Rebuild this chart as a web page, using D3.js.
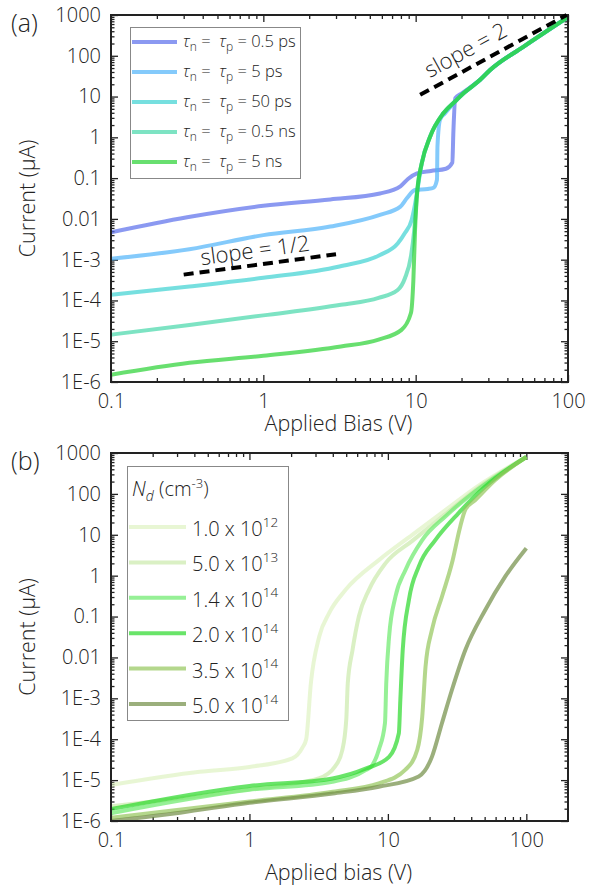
<!DOCTYPE html>
<html><head><meta charset="utf-8">
<script src="https://cdn.jsdelivr.net/npm/d3@7"></script>
<style>
body{margin:0;background:#fff}
svg{display:block}
text{font-family:'Open Sans','Noto Sans',sans-serif;fill:#222;font-weight:300}
</style>
</head><body><svg id="c" width="594" height="888"></svg>
<script>
// ---------------- DATA (bias in V, current in µA) ----------------
// Panel (a): carrier lifetime series
const tauValues = ["0.5 ps", "5 ps", "50 ps", "0.5 ns", "5 ns"];
const v_05ps = [0.1, 0.316, 1, 2.75, 5.83, 7.94, 8.9, 10.2, 12.6, 15.8, 17.4, 17.7, 18.2, 20.1, 26.5, 30.8, 50.9, 100];
const i_05ps = [4.7e-3, 0.011, 0.021, 0.030, 0.042, 0.063, 0.095, 0.13, 0.15, 0.17, 0.24, 1.5, 9.1, 12, 25.7, 44.7, 166, 890];
const v_5ps = [0.1, 0.327, 1, 2.75, 5.83, 7.94, 8.75, 9.91, 12.0, 13.1, 13.8, 13.9, 14.45, 15.6, 18.6, 20.6, 26.5, 30.8, 50.9, 100];
const i_5ps = [1.05e-3, 1.8e-3, 4.0e-3, 6.5e-3, 0.0126, 0.02, 0.032, 0.051, 0.054, 0.058, 0.091, 0.59, 2.7, 3.9, 8.3, 12, 25.7, 44.7, 166, 890];
const v_50ps = [0.1, 0.327, 1, 3.16, 5.83, 7.62, 8.5, 9.42, 10, 10.26, 10.96, 12.45, 15.2, 18.6, 20.6, 26.5, 30.8, 50.9, 100];
const i_50ps = [1.38e-4, 2.2e-4, 3.6e-4, 6.8e-4, 1.3e-3, 2.5e-3, 4.5e-3, 9.5e-3, 0.028, 0.051, 0.23, 1.05, 3.9, 8.3, 12, 25.7, 44.7, 166, 890];
const v_05ns = [0.1, 0.327, 1, 3.23, 5.71, 7.62, 8.5, 9.33, 9.77, 10.26, 10.96, 12.45, 15.2, 18.6, 20.6, 26.5, 30.8, 50.9, 100];
const i_05ns = [1.45e-5, 2.5e-5, 4.3e-5, 7.8e-5, 1.15e-4, 1.8e-4, 3.5e-4, 1.26e-3, 5e-3, 0.051, 0.23, 1.05, 3.9, 8.3, 12, 25.7, 44.7, 166, 890];
const v_5ns = [0.1, 0.327, 1, 3.23, 5.71, 8.07, 9.31, 9.66, 9.91, 10.26, 10.96, 12.45, 15.2, 18.6, 20.6, 26.5, 30.8, 50.9, 100];
const i_5ns = [1.5e-6, 2.95e-6, 4.4e-6, 7.4e-6, 1.1e-5, 1.9e-5, 4.9e-5, 3.2e-4, 5.4e-3, 0.051, 0.23, 1.05, 3.9, 8.3, 12, 25.7, 44.7, 166, 890];
const slopeHalfV = [0.3, 3.0];
const slopeHalfI = [4.3e-4, 1.36e-3];
const slopeTwoV = [10.7, 98];
const slopeTwoI = [11, 1000];

// Panel (b): doping series
const ndMantissa = ["1.0", "5.0", "1.4", "2.0", "3.5", "5.0"];
const ndExponent = ["12", "13", "14", "14", "14", "14"];
const v_nd1 = [0.1, 0.437, 1, 2.04, 2.42, 2.57, 2.78, 3.19, 3.77, 4.95, 8.6, 15, 26, 45.2, 100];
const i_nd1 = [7.6e-6, 1.6e-5, 2.1e-5, 3.4e-5, 6.3e-5, 1e-4, 2.4e-3, 0.032, 0.123, 0.45, 2.4, 10, 40, 160, 800];
const v_nd2 = [0.1, 1, 3.16, 4.17, 4.69, 5.01, 5.13, 5.55, 6.17, 7.3, 9.6, 15, 26, 45, 100];
const i_nd2 = [2.3e-6, 6e-6, 1.1e-5, 2.2e-5, 5.5e-5, 3.2e-4, 2.3e-3, 0.015, 0.1, 0.45, 2.0, 7.1, 31.6, 141, 800];
const v_nd3 = [0.1, 1, 3.98, 6.9, 7.7, 8.6, 9.53, 9.73, 10.2, 11.35, 13.4, 17.7, 26, 45.2, 100];
const i_nd3 = [1.55e-6, 5.8e-6, 9.1e-6, 1.75e-5, 2.3e-5, 5.5e-5, 2.5e-4, 2.3e-3, 0.032, 0.31, 1.38, 7.4, 28, 132, 800];
const v_nd4 = [0.1, 1, 3.98, 6.9, 10.2, 12, 12.3, 12.8, 14.2, 16.7, 22, 32.4, 50.5, 100];
const i_nd4 = [1.95e-6, 7.2e-6, 1.1e-5, 1.9e-5, 3.7e-5, 1.4e-4, 9.1e-4, 0.015, 0.26, 1.66, 7.4, 34, 151, 800];
const v_nd5 = [0.1, 1, 4, 8.6, 13.4, 16.3, 17.7, 18.7, 20.8, 24.6, 29, 33.3, 36.2, 42.8, 59.6, 100];
const i_nd5 = [1.2e-6, 3e-6, 5.2e-6, 8.3e-6, 1.8e-5, 5.5e-5, 3.5e-4, 5.9e-3, 0.047, 0.31, 2.0, 15.8, 40.7, 71, 219, 800];
const v_nd6 = [0.1, 0.316, 1, 4, 8.6, 16.7, 20.8, 24.6, 29, 36.2, 50.5, 70.3, 100];
const i_nd6 = [1.0e-6, 1.6e-6, 2.8e-6, 4.7e-6, 6.9e-6, 1.23e-5, 3.7e-5, 2.5e-4, 1.6e-3, 0.015, 0.145, 0.95, 4.7];

// Tick labels
const yTickValues = [1e-6, 1e-5, 1e-4, 1e-3, 0.01, 0.1, 1, 10, 100, 1000];
const yTickLabels = ["1E-6", "1E-5", "1E-4", "1E-3", "0.01", "0.1", "1", "10", "100", "1000"];
const xTickValues = [0.1, 1, 10, 100];
const xTickLabels = ["0.1", "1", "10", "100"];

// ---------------- STYLE ----------------
const colorsA = ["#5a6eeb", "#50b4fa", "#3cd2d2", "#46d7aa", "#28d232"];
const colorsB = ["#def2c2", "#caeaab", "#69ea69", "#29d929", "#94c65b", "#708d45"];
const FONT = "'Open Sans','Noto Sans',sans-serif";

const svg = d3.select("#c");

function minorTicks(lo, hi) {
  const out = [];
  for (let e = Math.floor(Math.log10(lo)); e <= Math.ceil(Math.log10(hi)); e++) {
    for (let k = 2; k <= 9; k++) {
      const v = k * Math.pow(10, e);
      if (v > lo * 1.0001 && v < hi * 0.9999) out.push(v);
    }
  }
  return out;
}

function panel(cfg) {
  const g = svg.append("g");
  const x = d3.scaleLog().domain(cfg.xDomain).range([cfg.left, cfg.right]);
  const y = d3.scaleLog().domain([1e-6, 1000]).range([cfg.bottom, cfg.top]);
  const W = cfg.right - cfg.left, H = cfg.bottom - cfg.top;
  const xMinor = minorTicks(cfg.xDomain[0], cfg.xDomain[1]);
  const yMinor = minorTicks(1e-6, 1000);
  const xMajor = xTickValues.filter(v => v >= cfg.xDomain[0] && v <= cfg.xDomain[1]);

  const fmtX = v => xTickLabels[xTickValues.indexOf(v)];
  const fmtY = v => yTickLabels[yTickValues.indexOf(v)];

  function styleAxis(sel) {
    sel.select(".domain").remove();
    sel.selectAll("line").attr("stroke", "#222").attr("stroke-width", 1.3);
    sel.selectAll("text").style("font-family", FONT)
      .style("font-size", "20px").style("font-weight", 300).attr("fill", "#222");
  }
  // bottom
  g.append("g").attr("transform", `translate(0,${cfg.bottom})`)
    .call(d3.axisBottom(x).tickValues(xMajor).tickSize(-7).tickPadding(11.5).tickFormat(fmtX))
    .call(styleAxis);
  g.append("g").attr("transform", `translate(0,${cfg.bottom})`)
    .call(d3.axisBottom(x).tickValues(xMinor).tickSize(-4).tickFormat(""))
    .call(styleAxis);
  // top
  g.append("g").attr("transform", `translate(0,${cfg.top})`)
    .call(d3.axisTop(x).tickValues(xMajor).tickSize(-7).tickFormat(""))
    .call(styleAxis);
  g.append("g").attr("transform", `translate(0,${cfg.top})`)
    .call(d3.axisTop(x).tickValues(xMinor).tickSize(-4).tickFormat(""))
    .call(styleAxis);
  // left
  g.append("g").attr("transform", `translate(${cfg.left},0)`)
    .call(d3.axisLeft(y).tickValues(yTickValues).tickSize(-7).tickPadding(10).tickFormat(fmtY))
    .call(styleAxis);
  g.append("g").attr("transform", `translate(${cfg.left},0)`)
    .call(d3.axisLeft(y).tickValues(yMinor).tickSize(-3.5).tickFormat(""))
    .call(styleAxis);
  // right
  g.append("g").attr("transform", `translate(${cfg.right},0)`)
    .call(d3.axisRight(y).tickValues(yTickValues).tickSize(-7).tickFormat(""))
    .call(styleAxis);
  g.append("g").attr("transform", `translate(${cfg.right},0)`)
    .call(d3.axisRight(y).tickValues(yMinor).tickSize(-3.5).tickFormat(""))
    .call(styleAxis);

  // clip
  const cid = "clip" + cfg.id;
  svg.append("clipPath").attr("id", cid).append("rect")
    .attr("x", cfg.left).attr("y", cfg.top).attr("width", W).attr("height", H);

  const line = d3.line().x(d => x(d[0])).y(d => y(d[1])).curve(d3.curveMonotoneX);
  const cg = g.append("g").attr("clip-path", `url(#${cid})`);
  cfg.series.forEach((s, k) => {
    cg.append("path").datum(d3.zip(s.v, s.i))
      .attr("d", line).attr("fill", "none")
      .attr("stroke", cfg.colors[k]).attr("stroke-width", 4)
      .attr("stroke-opacity", 0.7).attr("stroke-linejoin", "round");
  });

  // frame
  g.append("rect").attr("x", cfg.left).attr("y", cfg.top).attr("width", W).attr("height", H)
    .attr("fill", "none").attr("stroke", "#222").attr("stroke-width", 2);

  // axis titles
  g.append("text").attr("x", (cfg.left + cfg.right) / 2 - 1).attr("y", cfg.xTitleY)
    .attr("text-anchor", "middle").style("font-size", "21.5px").text(cfg.xTitle);
  g.append("text").attr("transform", `translate(35,${(cfg.top + cfg.bottom) / 2}) rotate(-90)`)
    .attr("text-anchor", "middle").style("font-size", "21.5px").text("Current (\u03bcA)");
  g.append("text").attr("x", 11).attr("y", cfg.top + 17).style("font-size", "25px").text(cfg.label);

  return {g, x, y, cg};
}

// ---------------- PANEL A ----------------
const A = panel({
  id: "a", left: 111, right: 568, top: 15, bottom: 382, xDomain: [0.1, 100],
  xTitle: "Applied Bias (V)", xTitleY: 431, label: "(a)", colors: colorsA,
  series: [{v: v_05ps, i: i_05ps}, {v: v_5ps, i: i_5ps}, {v: v_50ps, i: i_50ps},
           {v: v_05ns, i: i_05ns}, {v: v_5ns, i: i_5ns}]
});

function slopeLine(P, vs, is, label, along, up) {
  const pts = d3.zip(vs, is);
  P.g.append("path").datum(pts)
    .attr("d", d3.line().x(d => P.x(d[0])).y(d => P.y(d[1])))
    .attr("stroke", "#000").attr("stroke-width", 4).attr("stroke-dasharray", "10,6").attr("fill", "none");
  const x1 = P.x(vs[0]), y1 = P.y(is[0]), x2 = P.x(vs[1]), y2 = P.y(is[1]);
  const ang = Math.atan2(y2 - y1, x2 - x1) * 180 / Math.PI;
  P.g.append("text").attr("transform", `translate(${(x1 + x2) / 2},${(y1 + y2) / 2}) rotate(${ang})`)
    .attr("x", along).attr("y", up).attr("text-anchor", "middle").style("font-size", "22px").text(label);
}
slopeLine(A, slopeHalfV, slopeHalfI, "slope = 1/2", -3, -7);
slopeLine(A, slopeTwoV, slopeTwoI, "slope = 2", -22, -10);

// legend A
{
  const lg = A.g.append("g");
  lg.append("rect").attr("x", 130.5).attr("y", 27.5).attr("width", 170).attr("height", 151)
    .attr("fill", "#fff").attr("stroke", "#888").attr("stroke-width", 1);
  tauValues.forEach((t, k) => {
    const yy = 42 + k * 30;
    lg.append("line").attr("x1", 132).attr("x2", 177).attr("y1", yy).attr("y2", yy)
      .attr("stroke", colorsA[k]).attr("stroke-width", 4).attr("stroke-opacity", 0.7);
    const tx = lg.append("text").attr("x", 183).attr("y", yy + 5).style("font-size", "16.5px");
    tx.append("tspan").style("font-style", "italic").text("\u03c4");
    tx.append("tspan").attr("dy", 4).style("font-size", "12px").text("n");
    tx.append("tspan").attr("dy", -4).text("\u00a0=\u00a0\u00a0");
    tx.append("tspan").style("font-style", "italic").text("\u03c4");
    tx.append("tspan").attr("dy", 4).style("font-size", "12px").text("p");
    tx.append("tspan").attr("dy", -4).text("\u00a0=\u00a0" + t);
  });
}

// ---------------- PANEL B ----------------
const B = panel({
  id: "b", left: 111, right: 568, top: 453, bottom: 821, xDomain: [0.1, 200],
  xTitle: "Applied bias (V)", xTitleY: 880, label: "(b)", colors: colorsB,
  series: [{v: v_nd1, i: i_nd1}, {v: v_nd2, i: i_nd2}, {v: v_nd3, i: i_nd3},
           {v: v_nd4, i: i_nd4}, {v: v_nd5, i: i_nd5}, {v: v_nd6, i: i_nd6}]
});
{
  const lg = B.g.append("g");
  lg.append("rect").attr("x", 127.5).attr("y", 466.5).attr("width", 161).attr("height", 254)
    .attr("fill", "#fff").attr("stroke", "#888").attr("stroke-width", 1);
  const tt = lg.append("text").attr("x", 132).attr("y", 496).style("font-size", "20px");
  tt.append("tspan").style("font-style", "italic").text("N");
  tt.append("tspan").attr("dy", 5).style("font-style", "italic").style("font-size", "14px").text("d");
  tt.append("tspan").attr("dy", -5).text(" (cm");
  tt.append("tspan").attr("dy", -8).style("font-size", "13px").text("-3");
  tt.append("tspan").attr("dy", 8).text(")");
  ndMantissa.forEach((m, k) => {
    const yy = 527 + k * 35.4;
    lg.append("line").attr("x1", 129).attr("x2", 186).attr("y1", yy).attr("y2", yy)
      .attr("stroke", colorsB[k]).attr("stroke-width", 4).attr("stroke-opacity", 0.7);
    const tx = lg.append("text").attr("x", 192).attr("y", yy + 9).style("font-size", "20px");
    tx.append("tspan").text(m + " x 10");
    tx.append("tspan").attr("dy", -9.5).style("font-size", "13.5px").text(ndExponent[k]);
  });
}
</script>
</body></html>
